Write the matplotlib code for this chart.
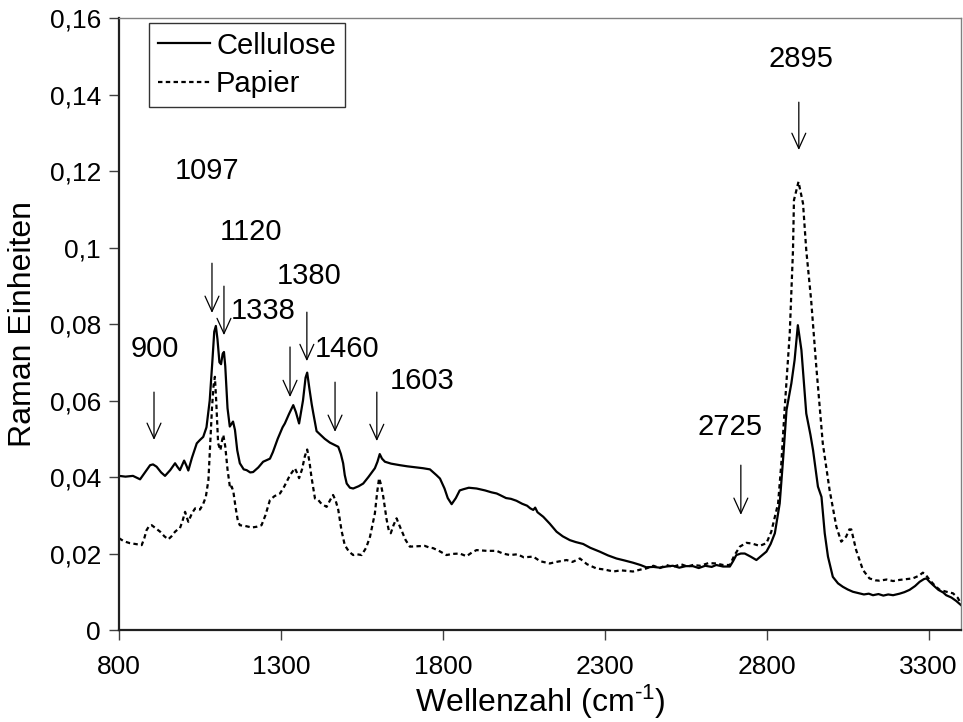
import numpy as np
import matplotlib
matplotlib.use('Agg')
import matplotlib.pyplot as plt

plt.rcParams['font.family'] = ['Liberation Sans', 'DejaVu Sans']
plt.rcParams['mathtext.fontset'] = 'custom'
plt.rcParams['mathtext.rm'] = 'Liberation Sans'
plt.rcParams['mathtext.default'] = 'regular'

# Cellulose spectrum (solid)
cell_x = [800, 820, 843, 855, 865, 880, 896, 905, 916, 930, 942, 958, 973, 980,
          988, 1001, 1008, 1014, 1025, 1040, 1050, 1060, 1070, 1080, 1088, 1094,
          1099, 1104, 1110, 1115, 1120, 1124, 1128, 1135, 1142, 1148, 1152, 1158,
          1165, 1173, 1185, 1194, 1205, 1214, 1230, 1245, 1258, 1266, 1275, 1281,
          1290, 1297, 1305, 1312, 1325, 1338, 1346, 1356, 1368, 1376, 1381, 1388,
          1395, 1400, 1410, 1420, 1435, 1451, 1465, 1477, 1485, 1492, 1497, 1503,
          1513, 1523, 1540, 1554, 1570, 1590, 1598, 1605, 1612, 1621, 1640, 1667,
          1690, 1719, 1739, 1760, 1780, 1791, 1805, 1815, 1827, 1840, 1852, 1863,
          1880, 1904, 1930, 1950, 1966, 1976, 1995, 2010, 2027, 2045, 2060, 2070,
          2079, 2085, 2092, 2110, 2130, 2151, 2170, 2192, 2210, 2233, 2255, 2284,
          2310, 2336, 2360, 2387, 2410, 2428, 2450, 2470, 2490, 2510, 2530, 2550,
          2572, 2590, 2610, 2630, 2644, 2665, 2686, 2696, 2706, 2720, 2732, 2750,
          2768, 2785, 2799, 2812, 2825, 2840, 2851, 2861, 2876, 2886, 2896, 2907,
          2922, 2935, 2943, 2958, 2969, 2979, 2989, 3004, 3020, 3035, 3050, 3066,
          3085, 3100, 3115, 3128, 3145, 3160, 3175, 3190, 3210, 3225, 3241, 3258,
          3272, 3285, 3293, 3303, 3313, 3330, 3345, 3354, 3370, 3385, 3400]
cell_y = [.0403, .0401, .0403, .0398, .0394, .0412, .0431, .0433, .0427, .0412,
          .0403, .0418, .0436, .0427, .0418, .0443, .0430, .0417, .0450, .0488,
          .0497, .0505, .0530, .0600, .0700, .0780, .0795, .0760, .0700, .0695,
          .0722, .0727, .0690, .0580, .0532, .0540, .0545, .0523, .0470, .0436,
          .0420, .0418, .0412, .0413, .0425, .0440, .0445, .0448, .0465, .0479,
          .0500, .0514, .0530, .0540, .0565, .0588, .0570, .0540, .0600, .0660,
          .0673, .0630, .0590, .0566, .0520, .0512, .0500, .0490, .0484, .0479,
          .0460, .0436, .0405, .0383, .0372, .0370, .0376, .0383, .0400, .0423,
          .0440, .0460, .0448, .0440, .0435, .0431, .0428, .0425, .0423, .0420,
          .0405, .0396, .0370, .0345, .0329, .0345, .0365, .0368, .0372, .0370,
          .0365, .0360, .0357, .0353, .0345, .0343, .0338, .0330, .0325, .0318,
          .0314, .0320, .0308, .0296, .0278, .0257, .0245, .0235, .0230, .0225,
          .0215, .0205, .0195, .0187, .0182, .0176, .0170, .0164, .0165, .0163,
          .0166, .0168, .0163, .0167, .0167, .0162, .0168, .0165, .0170, .0166,
          .0166, .0180, .0196, .0200, .0200, .0192, .0183, .0195, .0205, .0225,
          .0253, .0331, .0453, .0575, .0645, .0706, .0797, .0732, .0566, .0510,
          .0470, .0375, .0348, .0253, .0192, .0139, .0122, .0113, .0106, .0100,
          .0096, .0093, .0095, .0091, .0094, .0090, .0093, .0091, .0095, .0099,
          .0105, .0115, .0126, .0133, .0135, .0126, .0118, .0105, .0098, .0091,
          .0085, .0076, .0065]

# Papier spectrum (dotted)
pap_x = [800, 815, 834, 850, 870, 878, 885, 893, 901, 915, 927, 940, 952, 962,
         973, 980, 988, 996, 1004, 1009, 1014, 1025, 1035, 1042, 1050, 1060, 1068,
         1076, 1081, 1087, 1092, 1096, 1100, 1106, 1113, 1118, 1122, 1128, 1135,
         1143, 1148, 1153, 1160, 1167, 1173, 1190, 1210, 1225, 1240, 1252, 1266,
         1280, 1297, 1310, 1328, 1343, 1350, 1356, 1365, 1374, 1381, 1388, 1394,
         1405, 1415, 1425, 1441, 1452, 1461, 1469, 1477, 1487, 1497, 1510, 1523,
         1535, 1549, 1563, 1575, 1590, 1597, 1603, 1609, 1616, 1626, 1633, 1639,
         1648, 1657, 1665, 1672, 1685, 1698, 1720, 1744, 1757, 1770, 1790, 1811,
         1830, 1852, 1873, 1890, 1904, 1935, 1966, 1985, 2007, 2030, 2050, 2079,
         2100, 2130, 2150, 2182, 2200, 2223, 2245, 2274, 2300, 2326, 2350, 2387,
         2410, 2428, 2450, 2470, 2490, 2510, 2535, 2555, 2572, 2595, 2620, 2644,
         2665, 2686, 2700, 2717, 2737, 2755, 2778, 2799, 2814, 2835, 2845, 2855,
         2871, 2881, 2884, 2898, 2912, 2922, 2937, 2953, 2973, 2994, 3015, 3030,
         3045, 3055, 3061, 3076, 3097, 3117, 3135, 3148, 3170, 3190, 3210, 3230,
         3251, 3270, 3282, 3292, 3303, 3320, 3334, 3355, 3375, 3390, 3400]
pap_y = [.0240, .0232, .0227, .0225, .0222, .0240, .0261, .0272, .0274, .0265,
         .0257, .0245, .0237, .0245, .0257, .0262, .0266, .0285, .0309, .0295,
         .0283, .0305, .0318, .0316, .0315, .0330, .0348, .0392, .0479, .0580,
         .0640, .0662, .0600, .0488, .0470, .0495, .0510, .0480, .0420, .0370,
         .0375, .0362, .0320, .0285, .0274, .0272, .0268, .0270, .0274, .0300,
         .0340, .0350, .0357, .0375, .0405, .0423, .0410, .0397, .0420, .0455,
         .0472, .0440, .0401, .0344, .0340, .0330, .0322, .0340, .0353, .0338,
         .0314, .0260, .0222, .0205, .0196, .0198, .0196, .0215, .0244, .0305,
         .0360, .0397, .0380, .0348, .0290, .0260, .0253, .0275, .0292, .0275,
         .0261, .0235, .0218, .0219, .0220, .0216, .0214, .0206, .0196, .0199,
         .0200, .0193, .0203, .0209, .0207, .0207, .0200, .0196, .0198, .0190,
         .0192, .0180, .0174, .0178, .0183, .0178, .0187, .0172, .0161, .0158,
         .0153, .0156, .0153, .0158, .0161, .0168, .0162, .0170, .0165, .0172,
         .0166, .0170, .0168, .0175, .0174, .0170, .0170, .0195, .0218, .0228,
         .0226, .0220, .0227, .0257, .0331, .0436, .0575, .0776, .0993, .1124,
         .1172, .1115, .0993, .0863, .0688, .0488, .0366, .0270, .0231, .0244,
         .0263, .0263, .0209, .0157, .0135, .0130, .0129, .0132, .0128, .0131,
         .0133, .0135, .0142, .0150, .0143, .0131, .0115, .0105, .0100, .0096,
         .0084, .0068]

# peak labels: text, text position, arrow x, arrow y start / end
peak_labels = ['900', '1097', '1120', '1338', '1380', '1460', '1603', '2725', '2895']
label_x = [911, 1072, 1207, 1244, 1386, 1504, 1735, 2686, 2905]
label_y = [.0735, .120, .104, .0834, .0925, .0735, .0651, .0531, .1493]
arrow_x = [908, 1087, 1124, 1328, 1380, 1467, 1596, 2720, 2899]
arrow_y0 = [.0622, .0959, .0899, .0740, .0831, .0648, .0622, .0431, .138]
arrow_y1 = [.0497, .0829, .0771, .0609, .0703, .0518, .0494, .0301, .1255]

xticks = [800, 1300, 1800, 2300, 2800, 3300]
yticks = [0, 0.02, 0.04, 0.06, 0.08, 0.1, 0.12, 0.14, 0.16]
ytick_labels = ['0', '0,02', '0,04', '0,06', '0,08', '0,1', '0,12', '0,14', '0,16']

fig = plt.figure(figsize=(9.63, 7.22), dpi=100)
ax = fig.add_axes([0.1236, 0.1274, 0.8744, 0.8476])

ax.plot(cell_x, cell_y, color='black', lw=1.6, label='Cellulose')
ax.plot(pap_x, pap_y, color='black', lw=1.6, linestyle=(0, (2, 1.5)), label='Papier')

for t, tx, ty, axx, y0, y1 in zip(peak_labels, label_x, label_y, arrow_x, arrow_y0, arrow_y1):
    ax.text(tx, ty, t, fontsize=21, ha='center', va='center')
    ax.annotate('', xy=(axx, y1), xytext=(axx, y0),
                arrowprops=dict(arrowstyle='->,head_length=0.55,head_width=0.25',
                                color='black', lw=0.9, shrinkA=0, shrinkB=0,
                                mutation_scale=20))

ax.set_xlim(800, 3400)
ax.set_ylim(0, 0.16)
ax.set_xticks(xticks)
ax.set_xticklabels([str(v) for v in xticks])
ax.set_yticks(yticks)
ax.set_yticklabels(ytick_labels)
ax.tick_params(axis='both', labelsize=19, direction='out', length=7,
               color='#404040', width=1)
ax.tick_params(axis='x', pad=11)
ax.tick_params(axis='y', pad=6)

for s in ['left', 'bottom']:
    ax.spines[s].set_color('#202020')
    ax.spines[s].set_linewidth(1.6)
for s in ['top', 'right']:
    ax.spines[s].set_color('#808080')
    ax.spines[s].set_linewidth(1.0)

ax.set_xlabel(r'Wellenzahl (cm$^{\text{-1}}$)', fontsize=23, labelpad=3)
ax.set_ylabel('Raman Einheiten', fontsize=23, labelpad=8)

leg = ax.legend(loc='upper left', bbox_to_anchor=(0.0356, 0.992), borderaxespad=0,
                fontsize=21, fancybox=False, frameon=True, handlelength=1.8,
                handletextpad=0.2, borderpad=0.3, labelspacing=0.35)
leg.get_frame().set_edgecolor('black')
leg.get_frame().set_linewidth(1.0)

fig.savefig('out.png', dpi=100)
